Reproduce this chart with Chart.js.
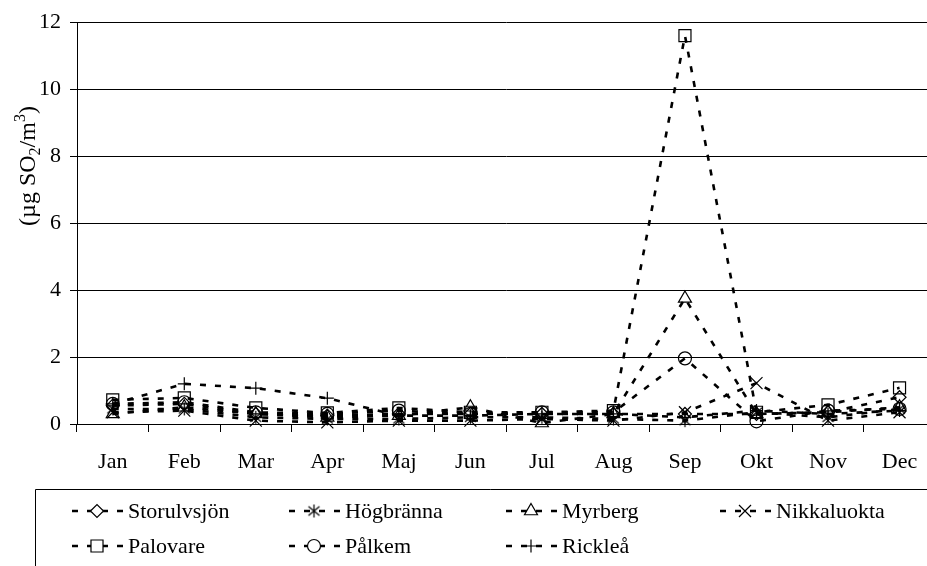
<!DOCTYPE html>
<html><head><meta charset="utf-8">
<script src="https://cdn.jsdelivr.net/npm/chart.js@4.4.0/dist/chart.umd.min.js"></script>
<style>html,body{margin:0;padding:0;background:#fff;overflow:hidden}#wrap{position:relative;width:927px;height:566px;overflow:hidden}</style>
</head><body><div id="wrap"><canvas id="c" width="945" height="566"></canvas></div>
<script>
// Monthly mean SO2 concentrations per station
const months = ['Jan','Feb','Mar','Apr','Maj','Jun','Jul','Aug','Sep','Okt','Nov','Dec'];
const yTicks = [0,2,4,6,8,10,12];
const storulvsjon = [0.55,0.6,0.3,0.25,0.3,0.3,0.3,0.3,0.3,0.3,0.35,0.8];
const hogbranna   = [0.45,0.45,0.2,0.15,0.15,0.2,0.2,0.15,0.1,0.35,0.2,0.45];
const myrberg     = [0.3,0.5,0.3,0.2,0.25,0.5,0.03,0.3,3.75,0.3,0.35,0.5];
const nikkaluokta = [0.35,0.4,0.1,0.05,0.1,0.1,0.15,0.1,0.35,1.22,0.1,0.35];
const palovare    = [0.72,0.78,0.48,0.33,0.48,0.35,0.35,0.4,11.6,0.35,0.57,1.08];
const palkem      = [0.6,0.65,0.35,0.3,0.4,0.3,0.35,0.35,1.96,0.08,0.4,0.45];
const ricklea     = [0.6,1.2,1.07,0.77,0.25,0.25,0.3,0.3,0.2,0.4,0.3,0.4];
// Axis title pieces: plain text, subscript, plain text, superscript, plain text
const yTitleParts = [['(µg SO', 0], ['2', 1], ['/m', 0], ['3', -1], [')', 0]];

const FONT = 'Liberation Serif';
const asterisk = (() => {
  const c = document.createElement('canvas'); c.width = 15; c.height = 15;
  const g = c.getContext('2d'); g.strokeStyle = '#000'; g.lineWidth = 1.2; g.beginPath();
  g.moveTo(7.5,1); g.lineTo(7.5,14); g.moveTo(2,3); g.lineTo(13,12); g.moveTo(13,3); g.lineTo(2,12); g.stroke();
  return c;
})();

const series = (label, data, style, radius) => ({
  label, data, pointStyle: style, pointRadius: radius, pointHoverRadius: radius,
  borderColor: '#000', backgroundColor: '#000', pointBorderColor: '#000',
  pointBackgroundColor: 'rgba(0,0,0,0)', pointBorderWidth: 1.2,
  borderWidth: 2.6, borderDash: [6, 9], borderCapStyle: 'butt', tension: 0, clip: false
});

const data = { labels: months, datasets: [
  series('Storulvsjön', storulvsjon, 'rectRot', 6.5),
  series('Högbränna', hogbranna, asterisk, 7),
  series('Myrberg', myrberg, 'triangle', 7.5),
  series('Nikkaluokta', nikkaluokta, 'crossRot', 8.5),
  series('Palovare', palovare, 'rect', 8.5),
  series('Pålkem', palkem, 'circle', 6.5),
  series('Rickleå', ricklea, 'cross', 6.5)
]};

// Rotated y-axis title with a real subscript and superscript
const yTitle = {
  id: 'yTitle',
  afterDraw(chart, args, opts) {
    const ctx = chart.ctx, big = opts.size, small = Math.round(opts.size * 0.65);
    ctx.save();
    ctx.translate(opts.x, opts.y); ctx.rotate(-Math.PI / 2);
    ctx.fillStyle = '#000'; ctx.textBaseline = 'alphabetic'; ctx.textAlign = 'left';
    let w = 0;
    yTitleParts.forEach(([t, k]) => { ctx.font = (k ? small : big) + 'px "' + FONT + '"'; w += ctx.measureText(t).width; });
    let x = -w / 2;
    const base = big * 0.33;
    yTitleParts.forEach(([t, k]) => {
      ctx.font = (k ? small : big) + 'px "' + FONT + '"';
      const dy = k === 1 ? big * 0.22 : k === -1 ? -big * 0.42 : 0;
      ctx.fillText(t, x, base + dy);
      x += ctx.measureText(t).width;
    });
    ctx.restore();
  }
};

// Legend laid out in a grid below the plot, inside an open frame
const gridLegend = {
  id: 'gridLegend',
  afterDraw(chart, args, opts) {
    const ctx = chart.ctx;
    ctx.save();
    ctx.strokeStyle = '#000'; ctx.lineWidth = 1; ctx.setLineDash([]);
    ctx.beginPath(); ctx.moveTo(35.5, 566); ctx.lineTo(35.5, 489.5); ctx.lineTo(945, 489.5); ctx.stroke();
    ctx.font = '22px "' + FONT + '"'; ctx.textBaseline = 'middle'; ctx.textAlign = 'left';
    chart.data.datasets.forEach((ds, i) => {
      const row = Math.floor(i / 4), col = i % 4;
      const tx = opts.textX[col], y = opts.rowY[row];
      const x0 = tx - 56, x1 = tx - 4, mx = tx - 31;
      ctx.strokeStyle = '#000';
      ctx.lineWidth = 2.6; ctx.setLineDash([6, 9]); ctx.lineDashOffset = 0;
      ctx.beginPath(); ctx.moveTo(x0, y); ctx.lineTo(x1, y); ctx.stroke();
      ctx.setLineDash([]);
      ctx.lineWidth = 1.2;
      ctx.fillStyle = '#fff';
      Chart.helpers.drawPoint(ctx, {pointStyle: ds.pointStyle, radius: ds.pointRadius, borderWidth: 1.2, rotation: 0}, mx, y);
      ctx.fillStyle = '#000';
      ctx.fillText(ds.label, tx, y + 1);
    });
    ctx.restore();
  }
};

new Chart(document.getElementById('c'), {
  type: 'line', data,
  plugins: [gridLegend, yTitle],
  options: {
    responsive: false, animation: false, devicePixelRatio: 1,
    layout: { padding: { left: 0, right: 6, top: 19, bottom: 0 } },
    plugins: {
      legend: { display: false }, tooltip: { enabled: false },
      gridLegend: { textX: [128, 345, 562, 776], rowY: [511, 546] },
      yTitle: { x: 27, y: 166, size: 24 }
    },
    scales: {
      x: {
        offset: true,
        afterFit: s => { s.height = 142; },
        grid: { display: true, drawOnChartArea: false, offset: true, color: '#000', tickLength: 8, lineWidth: 1 },
        border: { color: '#000', width: 1 },
        ticks: { color: '#000', font: { family: FONT, size: 22 }, padding: 17, maxRotation: 0, autoSkip: false }
      },
      y: {
        min: 0, max: 12,
        afterFit: s => { s.width = 77; },
        afterBuildTicks: a => { a.ticks = yTicks.map(v => ({ value: v })); },
        grid: { color: '#000', lineWidth: 1, tickLength: 7 },
        border: { color: '#000', width: 1 },
        ticks: { color: '#000', font: { family: FONT, size: 22 }, padding: 9 }
      }
    }
  }
});
</script></body></html>
